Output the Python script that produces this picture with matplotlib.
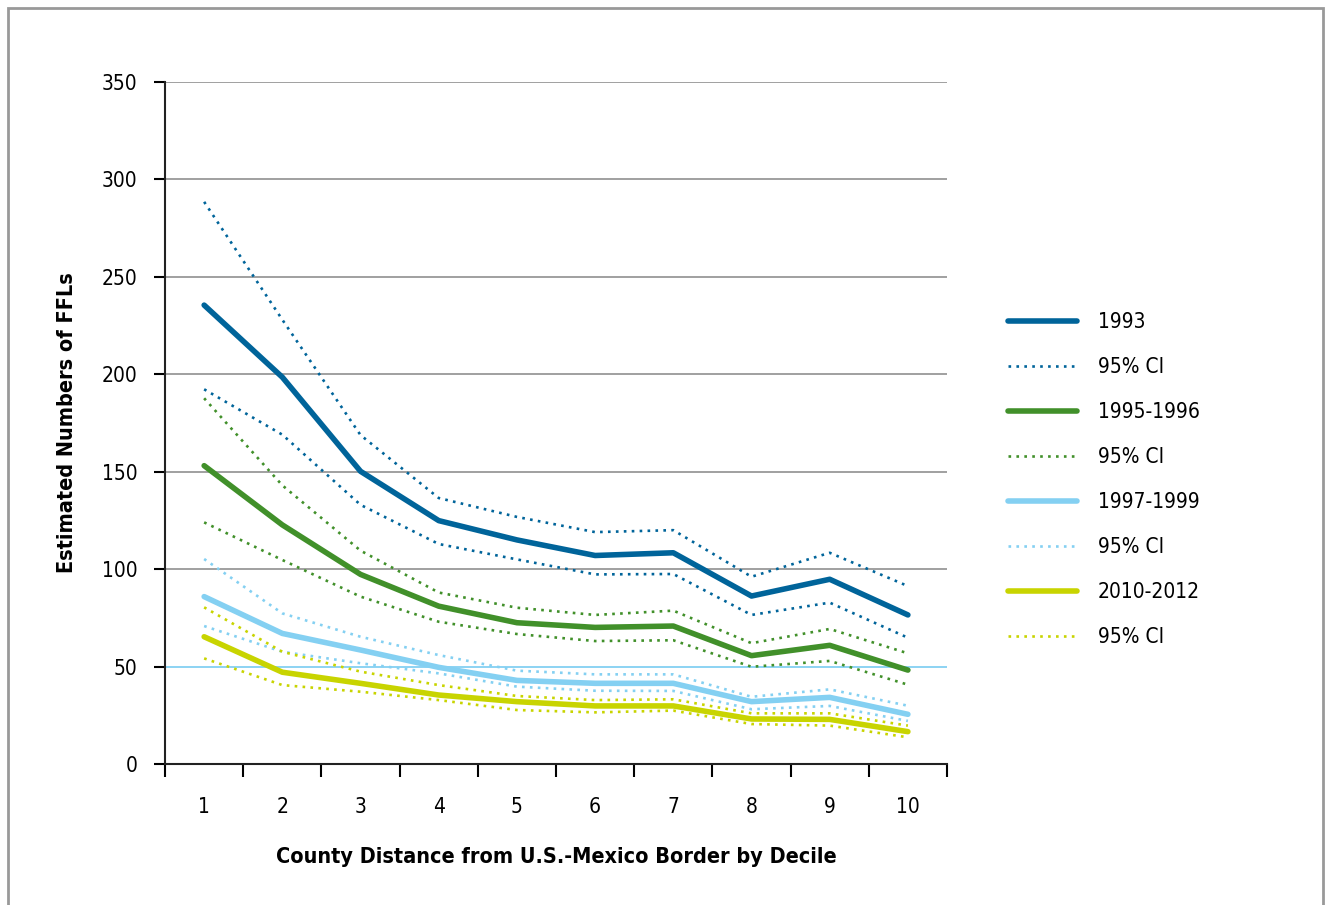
import numpy as np
import matplotlib
matplotlib.use("Agg")
import matplotlib.pyplot as plt
from matplotlib.patches import Rectangle

plt.rcParams['font.family'] = ['DejaVu Sans']
plt.rcParams['font.stretch'] = 'condensed'

# deciles of county distance from the border
deciles = list(range(1, 11))

# estimated numbers of FFLs, with 95% CI bounds
y1993 = [235.5, 198.5, 150.2, 124.9, 115.0, 107.0, 108.4, 86.2, 94.8, 76.5]
y1993_hi = [288.5, 228.0, 168.8, 136.5, 126.8, 119.0, 120.0, 96.1, 108.4, 91.3]
y1993_lo = [192.3, 169.0, 133.0, 112.9, 105.0, 97.3, 97.5, 76.5, 82.8, 64.8]

y1995 = [153.1, 122.7, 97.3, 81.0, 72.5, 70.1, 70.8, 55.6, 60.9, 48.2]
y1995_hi = [187.7, 143.0, 109.5, 88.0, 80.2, 76.5, 78.7, 62.0, 69.3, 56.8]
y1995_lo = [124.0, 104.7, 85.9, 73.0, 66.7, 63.1, 63.5, 49.9, 52.9, 40.7]

y1997 = [85.9, 67.0, 58.5, 49.6, 42.9, 41.4, 41.4, 32.0, 34.2, 25.5]
y1997_hi = [105.2, 77.3, 65.3, 55.9, 47.9, 46.0, 46.0, 34.5, 38.3, 29.9]
y1997_lo = [70.8, 57.6, 51.7, 46.5, 39.7, 37.6, 37.5, 28.1, 29.8, 22.1]

y2010 = [65.3, 47.1, 41.4, 35.4, 32.0, 29.8, 29.8, 23.1, 22.9, 16.6]
y2010_hi = [80.4, 57.6, 47.4, 40.5, 34.9, 32.8, 33.2, 26.0, 26.0, 19.7]
y2010_lo = [54.2, 40.5, 37.1, 32.8, 27.7, 26.5, 27.4, 20.5, 19.7, 13.7]

series = [
    ("1993", y1993, y1993_hi, y1993_lo, "#00649a"),
    ("1995-1996", y1995, y1995_hi, y1995_lo, "#41902a"),
    ("1997-1999", y1997, y1997_hi, y1997_lo, "#84d0f2"),
    ("2010-2012", y2010, y2010_hi, y2010_lo, "#c8d400"),
]

fig = plt.figure(figsize=(13.31, 9.05), dpi=100)
ax = fig.add_axes([0.124, 0.1558, 0.5875, 0.7536])

# frame around the whole figure
fig.patches.append(Rectangle((8 / 1331, -0.02), 1315 / 1331, 1.02 - 8 / 905,
                             transform=fig.transFigure, fill=False,
                             edgecolor="#999999", linewidth=2))

for name, mid, hi, lo, col in series:
    ax.plot(deciles, mid, color=col, lw=4.0, solid_capstyle="round", label=name, zorder=4)
    ax.plot(deciles, hi, color=col, lw=1.9, ls=(0, (1, 2)), label="95% CI", zorder=3)
    ax.plot(deciles, lo, color=col, lw=1.9, ls=(0, (1, 2)), zorder=3)

ax.set_xlim(0.5, 10.5)
ax.set_ylim(0, 350)
ax.set_yticks(range(0, 351, 50))
ax.set_xticks(deciles)
ax.set_xticks(np.arange(0.5, 10.6, 1), minor=True)

ax.yaxis.grid(True, color="#999999", lw=1.3, zorder=1)
ax.get_ygridlines()[1].set_color("#84d0f2")
ax.set_axisbelow(True)

for s in ("top", "right"):
    ax.spines[s].set_visible(False)
for s in ("left", "bottom"):
    ax.spines[s].set_linewidth(1.5)
    ax.spines[s].set_color("#222222")

ax.tick_params(axis="y", length=8, width=1.5, pad=12, labelsize=15)
ax.tick_params(axis="x", which="major", length=0, pad=24, labelsize=15)
ax.tick_params(axis="x", which="minor", length=9, width=1.5)

ax.set_xlabel("County Distance from U.S.-Mexico Border by Decile",
              fontsize=15.5, fontweight="bold", labelpad=21)
ax.set_ylabel("Estimated Numbers of FFLs", fontsize=15.5, fontweight="bold", labelpad=18)

ax.legend(loc="upper left", bbox_to_anchor=(1008 / 1331, 1 - 312 / 905),
          bbox_transform=fig.transFigure, frameon=False, fontsize=15,
          handlelength=3.3, handletextpad=1.0, labelspacing=1.2, borderpad=0,
          borderaxespad=0)

fig.savefig("out.png", dpi=100)
